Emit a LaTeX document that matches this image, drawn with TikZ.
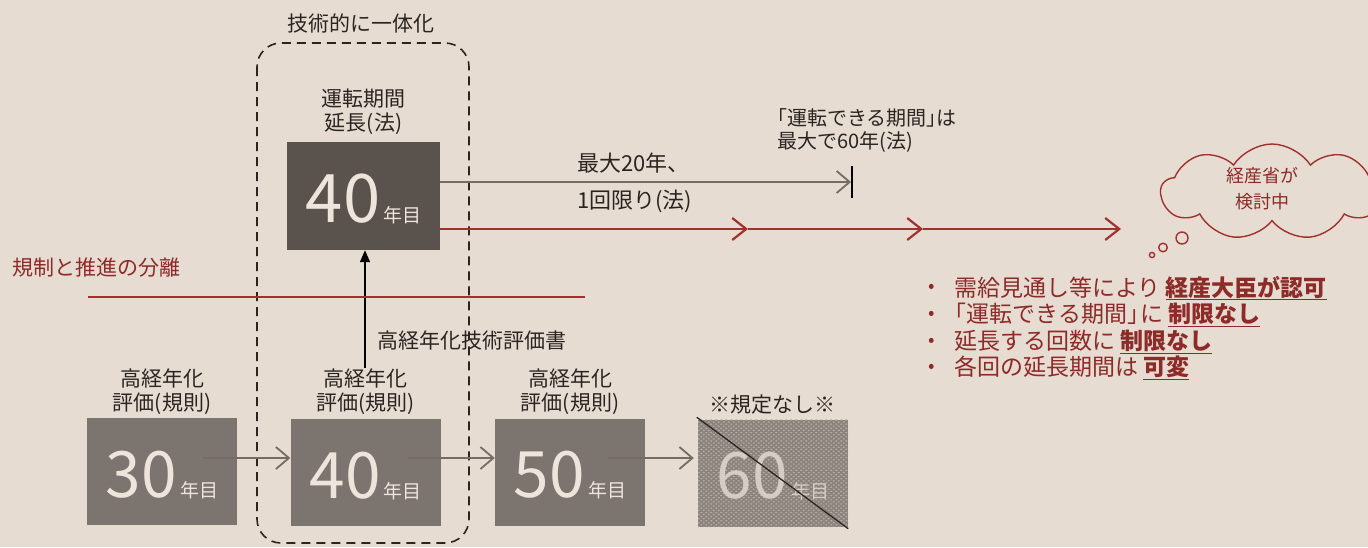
\documentclass[tikz,border=0pt]{standalone}
\usepackage{fontspec}
\setmainfont{Noto Sans CJK JP}
\usetikzlibrary{arrows.meta,shapes.symbols,patterns}
\definecolor{bg}{HTML}{E6DCD2}
\definecolor{dk}{HTML}{5A524C}
\definecolor{md}{HTML}{7C746E}
\definecolor{lt}{HTML}{EDE5DB}
\definecolor{ink}{HTML}{2B2522}
\definecolor{rd}{HTML}{A2302F}
\definecolor{rdt}{HTML}{8E2A28}
\definecolor{ar}{HTML}{756C66}
\definecolor{basesix}{HTML}{8A827B}
\definecolor{digsix}{HTML}{DDD5CC}
\definecolor{dotsix}{HTML}{B6AEA6}
\pgfdeclarepatternformonly{ovaldots}{\pgfqpoint{-1pt}{-1pt}}{\pgfqpoint{6pt}{5pt}}{\pgfqpoint{5pt}{4.2pt}}{%
  \pgfpathellipse{\pgfqpoint{1.25pt}{1.05pt}}{\pgfqpoint{1.25pt}{0pt}}{\pgfqpoint{0pt}{0.8pt}}%
  \pgfpathellipse{\pgfqpoint{3.75pt}{3.15pt}}{\pgfqpoint{1.25pt}{0pt}}{\pgfqpoint{0pt}{0.8pt}}%
  \pgfusepath{fill}}
\newcommand{\nenme}[2][64]{{\fontsize{#1}{#1}\selectfont #2}\hspace{3pt}{\fontsize{19}{19}\selectfont 年目}}
\begin{document}
\begin{tikzpicture}[x=1pt,y=-1pt,
  dkbox/.style={fill=dk, draw=none, inner sep=0pt, minimum width=153pt, minimum height=108pt},
  mdbox/.style={fill=md, draw=none, inner sep=0pt, minimum width=150pt, minimum height=107pt},
  numtxt/.style={text=lt, inner sep=0pt, anchor=base},
  lbl/.style={text=ink, align=center, font=\fontsize{21}{24}\selectfont, inner sep=0pt},
  lblL/.style={text=ink, font=\fontsize{21}{24}\selectfont, inner sep=0pt, anchor=west},
  rtxt/.style={text=rdt, font=\fontsize{23}{27}\selectfont, inner sep=0pt, anchor=west},
  bul/.style={text=rdt, font=\fontsize{19}{23}\selectfont, inner sep=0pt},
  garrow/.style={draw=ar, line width=1.8pt, -{Straight Barb[length=13pt,width=22pt]}},
  rarrow/.style={draw=rd, line width=2.2pt, -{Straight Barb[length=14pt,width=22pt]}},
  rline/.style={draw=rd, line width=1.8pt},
  varrow/.style={draw=black, line width=1.4pt, -{Triangle[length=12pt,width=10pt]}},
  dashbox/.style={draw=ink, line width=1.6pt, dash pattern=on 9pt off 6pt, rounded corners=24pt},
  bubble/.style={draw=rd, line width=1.4pt}
]
\useasboundingbox (0,0) rectangle (1368,547);
\clip (0,0) rectangle (1368,547);
\fill[bg] (0,0) rectangle (1368,547);

% dashed grouping
\draw[dashbox] (257,43) rectangle (469,543);
\node[lbl] (grp) at (361,23) {技術的に一体化};

% top box
\node[dkbox] (top40) at (363.5,196) {};
\node[numtxt] (top40t) at (363.5,222) {\nenme[67]{40}};
\node[lbl] (top40l) at (363.5,112) {運転期間\\延長(法)};

% bottom boxes
\node[mdbox] (b30) at (162,471.5) {};
\node[numtxt] (t30) at (162,497) {\nenme{30}};
\node[lbl] (l30) at (162,392) {高経年化\\評価(規則)};

\node[mdbox] (b40) at (365.5,472.5) {};
\node[numtxt] (t40) at (365.5,498) {\nenme{40}};
\node[lbl] (l40) at (365.5,392) {高経年化\\評価(規則)};

\node[mdbox] (b50) at (570,472) {};
\node[numtxt] (t50) at (570,497) {\nenme{50}};
\node[lbl] (l50) at (570,392) {高経年化\\評価(規則)};

\node[mdbox, fill=basesix] (b60) at (773,473) {};
\fill[pattern=ovaldots, pattern color=dotsix] (b60.north west) rectangle (b60.south east);
\node[numtxt, text=digsix, opacity=0.9] (t60) at (773,498) {\nenme{60}};
\draw[ink, line width=1.3pt] ([shift={(-1,-2)}]b60.north west) -- ([shift={(0,2)}]b60.south east);
\node[lbl] (l60) at (772,405) {※規定なし※};

% bottom arrows
\coordinate (s30) at (203,458);
\coordinate (s40) at (408,458);
\coordinate (s50) at (608,458);
\draw[garrow] (s30) -- (b40.west |- s30);
\draw[garrow] (s40) -- (b50.west |- s40);
\draw[garrow] (s50) -- ([xshift=-4pt]b60.west |- s50);

% vertical arrow
\coordinate (vs) at (365,368);
\draw[varrow] (vs) -- (vs |- top40.south);
\node[lblL] (rep) at (377,341) {高経年化技術評価書};

% separation
\node[lblL, text=rdt] (sep) at (12,268) {規制と推進の分離};
\coordinate (sepA) at (88,297);
\coordinate (sepB) at (585,297);
\draw[rline] (sepA) -- (sepB);

% top gray arrow
\coordinate (gs) at (top40.east |- 0,182);
\coordinate (ge) at (851,182);
\coordinate (barT) at (852,166);
\coordinate (barB) at (852,198);
\draw[garrow] (gs) -- (ge);
\draw[black, line width=1.8pt] (barT) -- (barB);
\node[lblL, font=\fontsize{22}{24}\selectfont] (g1) at (577,163) {最大20年、};
\node[lblL, font=\fontsize{22}{24}\selectfont] (g2) at (577,201) {1回限り(法)};
\node[lblL, font=\fontsize{20}{24}\selectfont] (m1) at (767,118) {「運転できる期間」\kern-0.5emは};
\node[lblL, font=\fontsize{20}{24}\selectfont] (m2) at (777,142) {最大で60年(法)};

% red arrow line
\coordinate (rs) at (top40.east |- 0,229);
\coordinate (r1) at (748,229);
\coordinate (r2) at (923,229);
\coordinate (r3) at (1121,229);
\draw[rarrow] (rs) -- (r1);
\draw[rarrow] (r1) -- (r2);
\draw[rarrow] (r2) -- (r3);

% cloud
\node[cloud, bubble, cloud puffs=9, cloud puff arc=115, aspect=2.2, minimum width=222pt, minimum height=96pt, inner sep=0pt] (cl) at (1272,192) {};
\node[bul, align=center, font=\fontsize{18}{26}\selectfont] (clt) at (1262,189) {経産省が\\検討中};
\draw[bubble] (1182,238) circle (6pt);
\draw[bubble] (1163,247.5) circle (4.3pt);
\draw[bubble] (1152,255) circle (2.6pt);

% bullet list
\node[bul] (d1) at (932,288) {•};
\node[rtxt] (x1) at (954,288) {需給見通し等により \underline{\textbf{経産大臣が認可}}};
\node[bul] (d2) at (932,315) {•};
\node[rtxt] (x2) at (954,315) {\kern-0.45em「運転できる期間」\kern-0.45emに \underline{\textbf{制限なし}}};
\node[bul] (d3) at (932,342) {•};
\node[rtxt] (x3) at (954,342) {延長する回数に \underline{\textbf{制限なし}}};
\node[bul] (d4) at (932,368) {•};
\node[rtxt] (x4) at (954,368) {各回の延長期間は \underline{\textbf{可変}}};
\end{tikzpicture}
\end{document}
